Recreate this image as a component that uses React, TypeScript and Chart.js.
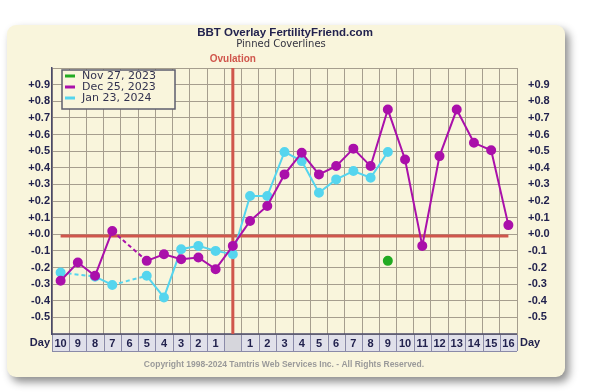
import React, { useEffect, useRef } from "react";
import { Chart, registerables } from "chart.js";

Chart.register(...registerables);

const DAY_LABELS = ["10","9","8","7","6","5","4","3","2","1","","1","2","3","4","5","6","7","8","9","10","11","12","13","14","15","16"];
const NOV27 = [null,null,null,null,null,null,null,null,null,null,null,null,null,null,null,null,null,null,null,-0.16,null,null,null,null,null,null,null];
const DEC25 = [-0.28,-0.17,-0.25,0.02,null,-0.16,-0.12,-0.15,-0.14,-0.21,-0.07,0.08,0.17,0.36,0.49,0.36,0.41,0.515,0.41,0.75,0.45,-0.07,0.47,0.75,0.55,0.505,0.055];
const JAN23 = [-0.23,null,-0.255,-0.305,null,-0.25,-0.38,-0.09,-0.07,-0.10,-0.12,0.23,0.23,0.495,0.44,0.25,0.33,0.38,0.34,0.495,null,null,null,null,null,null,null];
const SERIES_NAMES = ["Nov 27, 2023", "Dec 25, 2023", "Jan 23, 2024"];
const SERIES_COLORS = ["#22aa22", "#aa10aa", "#55d5ee"];
const OVULATION_INDEX = 10;
const COVERLINE = -0.01;

const PANEL = "#f9f5dc";
const NAVY = "#22224e";
const RED = "#d0564c";
const GRID = "#a69e8e";

const fmt = (v: number) => {
  if (Math.abs(v) < 1e-9) return "+0.0";
  return (v > 0 ? "+" : "") + v.toFixed(1);
};

const decorPlugin = {
  id: "decor",
  beforeDraw(chart: any) {
    const ctx = chart.ctx;
    const { chartArea: a } = chart;
    ctx.save();
    ctx.fillStyle = "#ffffff";
    ctx.fillRect(0, 0, chart.width, chart.height);
    ctx.shadowColor = "rgba(0,0,0,0.45)";
    ctx.shadowBlur = 9;
    ctx.shadowOffsetX = 4;
    ctx.shadowOffsetY = 5;
    ctx.fillStyle = PANEL;
    ctx.beginPath();
    (ctx as any).roundRect(7, 25, 558, 352, 9);
    ctx.fill();
    ctx.shadowColor = "transparent";
    ctx.textAlign = "center";
    ctx.textBaseline = "middle";
    ctx.fillStyle = NAVY;
    ctx.font = "bold 11.5px 'Liberation Sans'";
    ctx.fillText("BBT Overlay FertilityFriend.com", 285, 33);
    ctx.fillStyle = "#333340";
    ctx.font = "10px 'DejaVu Sans'";
    ctx.fillText("Pinned Coverlines", 281, 44);
    const xs = chart.scales.x;
    const ox = xs.getPixelForValue(OVULATION_INDEX);
    ctx.fillStyle = RED;
    ctx.font = "bold 10px 'Liberation Sans'";
    ctx.fillText("Ovulation", ox, 59);
    const n = DAY_LABELS.length;
    const w = (a.right - a.left) / n;
    const top = a.bottom, h = 17;
    for (let i = 0; i < n; i++) {
      ctx.fillStyle = i === OVULATION_INDEX ? "#d6d6dc" : "#e0e0ea";
      ctx.fillRect(a.left + i * w, top, w, h);
    }
    ctx.strokeStyle = "#8a8aa8";
    ctx.lineWidth = 1;
    for (let i = 0; i <= n; i++) {
      const x = Math.round(a.left + i * w) + 0.5;
      ctx.beginPath();
      ctx.moveTo(x, top);
      ctx.lineTo(x, top + h);
      ctx.stroke();
    }
    ctx.beginPath();
    ctx.moveTo(a.left, top + h + 0.5);
    ctx.lineTo(a.right, top + h + 0.5);
    ctx.stroke();
    ctx.fillStyle = NAVY;
    ctx.font = "bold 11px 'Liberation Sans'";
    ctx.textAlign = "right";
    ctx.fillText("Day", a.left - 2, top + 9);
    ctx.textAlign = "left";
    ctx.fillText("Day", a.right + 3, top + 9);
    ctx.textAlign = "center";
    ctx.fillStyle = "#9a9a9a";
    ctx.font = "bold 8.5px 'Liberation Sans'";
    ctx.fillText("Copyright 1998-2024 Tamtris Web Services Inc. - All Rights Reserved.", 284, 365);
    ctx.restore();
  },
  beforeDatasetsDraw(chart: any) {
    const ctx = chart.ctx;
    const { chartArea: a } = chart;
    const xs = chart.scales.x;
    const ys = chart.scales.y;
    ctx.save();
    ctx.strokeStyle = "#4a4a6a";
    ctx.lineWidth = 1.5;
    ctx.beginPath();
    ctx.moveTo(a.left, a.bottom);
    ctx.lineTo(a.right, a.bottom);
    ctx.stroke();
    ctx.strokeStyle = RED;
    ctx.lineWidth = 3;
    const ox = xs.getPixelForValue(OVULATION_INDEX);
    ctx.beginPath();
    ctx.moveTo(ox, a.top);
    ctx.lineTo(ox, a.bottom);
    ctx.stroke();
    const cy = ys.getPixelForValue(COVERLINE);
    ctx.beginPath();
    ctx.moveTo(xs.getPixelForValue(0), cy);
    ctx.lineTo(xs.getPixelForValue(DAY_LABELS.length - 1), cy);
    ctx.stroke();
    ctx.restore();
  },
  afterDraw(chart: any) {
    const ctx = chart.ctx;
    ctx.save();
    ctx.fillStyle = PANEL;
    ctx.fillRect(62, 70, 113, 39);
    ctx.strokeStyle = "#5e5e6e";
    ctx.lineWidth = 1.5;
    ctx.strokeRect(62, 70, 113, 39);
    ctx.font = "11px 'DejaVu Sans'";
    ctx.textAlign = "left";
    ctx.textBaseline = "middle";
    SERIES_NAMES.forEach((name, i) => {
      const y = 76 + i * 11;
      ctx.strokeStyle = SERIES_COLORS[i];
      ctx.lineWidth = 3;
      ctx.beginPath();
      ctx.moveTo(65, y);
      ctx.lineTo(75, y);
      ctx.stroke();
      ctx.fillStyle = "#333350";
      ctx.fillText(name, 82, y);
    });
    ctx.restore();
  },
};

const dashGap = (ctx: any) => (ctx.p0.skip || ctx.p1.skip ? [4, 3] : undefined);

export default function App() {
  const ref = useRef<HTMLCanvasElement | null>(null);
  useEffect(() => {
    document.body.style.margin = "0";
    const canvas = ref.current!;
    const mk = (data: (number | null)[], color: string) => ({
      data,
      borderColor: color,
      backgroundColor: color,
      pointBackgroundColor: color,
      pointBorderColor: color,
      pointRadius: 4,
      borderWidth: 2,
      spanGaps: true,
      segment: { borderDash: dashGap },
    });
    const yTicks = {
      stepSize: 0.1,
      color: NAVY,
      font: { family: "'Liberation Sans'", weight: "bold" as const, size: 11 },
      padding: 2,
      callback: (v: any) => {
        const n = Number(v);
        if (n < -0.55 || n > 0.95) return "";
        return fmt(n);
      },
    };
    const chart = new Chart(canvas, {
      type: "line",
      data: {
        labels: DAY_LABELS,
        datasets: [
          mk(NOV27, SERIES_COLORS[0]),
          mk(DEC25, SERIES_COLORS[1]),
          mk(JAN23, SERIES_COLORS[2]),
        ],
      },
      options: {
        responsive: false,
        animation: false,
        devicePixelRatio: 1,
        layout: { padding: { top: 68, left: 0, right: 0, bottom: 0 } },
        plugins: { legend: { display: false }, tooltip: { enabled: false } },
        scales: {
          x: {
            offset: true,
            grid: { offset: true, color: GRID, drawTicks: false },
            border: { display: false },
            ticks: {
              color: NAVY,
              font: { family: "'Liberation Sans'", weight: "bold", size: 11 },
              padding: 3,
              autoSkip: false,
              maxRotation: 0,
            },
            afterFit: (s: any) => { s.height = 58; },
          },
          y: {
            position: "left",
            min: -0.6,
            max: 1.0,
            grid: { color: GRID, drawTicks: false },
            border: { color: "#4a4a6a", width: 1.5 },
            ticks: yTicks,
            afterFit: (s: any) => { s.width = 52; },
          },
          y2: {
            position: "right",
            min: -0.6,
            max: 1.0,
            grid: { display: false },
            border: { color: GRID, width: 1 },
            ticks: { ...yTicks, padding: 3 },
            afterFit: (s: any) => { s.width = 83; },
          },
        },
      },
      plugins: [decorPlugin],
    } as any);
    return () => chart.destroy();
  }, []);
  return (
    <canvas
      ref={ref}
      width={600}
      height={392}
      style={{ position: "fixed", left: 0, top: 0, width: 600, height: 392 }}
    />
  );
}
